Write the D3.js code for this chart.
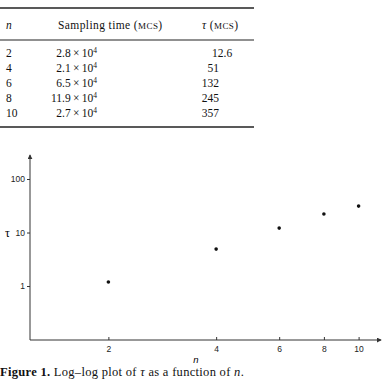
<!DOCTYPE html>
<html>
<head>
<meta charset="utf-8">
<script src="https://cdn.jsdelivr.net/npm/d3@7"></script>
<style>
  body { margin: 0; background: #fff; }
  svg { display: block; }
  .tbl { font-family: "Liberation Serif", serif; font-size: 11.5px; fill: #111; }
  .ax text { font-family: "Liberation Sans", "DejaVu Sans", sans-serif; font-size: 8.5px; fill: #222; }
  .ax path, .ax line { stroke: #333; }
</style>
</head>
<body>
<div id="chart"></div>
<script>
// table data
var nValues = [2, 4, 6, 8, 10]
var sampleMant = ['2.8', '2.1', '6.5', '11.9', '2.7']
var tauTable = ['12.6', '51', '132', '245', '357']

// plotted points
var plotN = [2, 4, 6, 8, 10]
var plotTau = [1.19, 4.9, 12.1, 22.2, 31.2]
var yTicks = [1, 10, 100]
var xTicks = [2, 4, 6, 8, 10]

var W = 382, H = 380
var svg = d3.select('#chart').append('svg')
    .attr('width', W).attr('height', H)

// ---- table ----
var tbl = svg.append('g').attr('class', 'tbl')
function rule(yy, w) {
    tbl.append('line').attr('x1', 0).attr('x2', 254).attr('y1', yy).attr('y2', yy)
        .attr('stroke', '#222').attr('stroke-width', w)
}
rule(8, 1.4)
rule(40, 1.2)
rule(127, 1.4)

tbl.append('text').attr('x', 6).attr('y', 29).style('font-style', 'italic').text('n')
var hd = tbl.append('text').attr('x', 58).attr('y', 29).style('letter-spacing', '0.4px')
hd.append('tspan').text('Sampling time (')
hd.append('tspan').style('font-size', '9px').text('MCS')
hd.append('tspan').text(')')
var hd2 = tbl.append('text').attr('x', 202).attr('y', 29).style('letter-spacing', '0.4px')
hd2.append('tspan').style('font-style', 'italic').text('τ')
hd2.append('tspan').text(' (')
hd2.append('tspan').style('font-size', '9px').text('MCS')
hd2.append('tspan').text(')')

var rowY = d3.scalePoint().domain(nValues).range([56.5, 116.5])
nValues.forEach(function(n, i) {
    var yy = rowY(n)
    tbl.append('text').attr('x', 6).attr('y', yy).text(n)
    var t = tbl.append('text').attr('x', 97).attr('y', yy).attr('text-anchor', 'end')
    t.append('tspan').text(sampleMant[i] + '\u2009×\u200910')
    t.append('tspan').attr('dy', -4).style('font-size', '7.5px').text('4')
    var v = tauTable[i]
    var tx = tbl.append('text').attr('y', yy)
    if (v.indexOf('.') >= 0) {
        tx.attr('x', 212).text(v)
    } else {
        tx.attr('x', 219).attr('text-anchor', 'end').text(v)
    }
})

// ---- plot ----
var pLeft = 30, pRight = 381, pTop = 155, pBottom = 340
var x = d3.scaleLog().domain([1.208, 11.55]).range([pLeft, pRight])
var y = d3.scaleLog().domain([0.098, 281]).range([pBottom, pTop])

var defs = svg.append('defs')
defs.append('marker').attr('id', 'arr')
    .attr('viewBox', '0 0 6 6').attr('refX', 5).attr('refY', 3)
    .attr('markerWidth', 5).attr('markerHeight', 5).attr('orient', 'auto')
    .append('path').attr('d', 'M0,0 L6,3 L0,6 Z').attr('fill', '#333')

var xAxis = svg.append('g').attr('class', 'ax')
    .attr('transform', 'translate(0,' + pBottom + ')')
    .call(d3.axisBottom(x).tickValues(xTicks).tickFormat(d3.format('d'))
        .tickSizeInner(-3).tickSizeOuter(0).tickPadding(6))
// only arrow at the far end
xAxis.select('.domain').attr('d', 'M' + pLeft + ',0H' + pRight).attr('marker-end', 'url(#arr)')

var yAxis = svg.append('g').attr('class', 'ax')
    .attr('transform', 'translate(' + pLeft + ',0)')
    .call(d3.axisLeft(y).tickValues(yTicks).tickFormat(d3.format('d'))
        .tickSizeInner(3).tickSizeOuter(0).tickPadding(2))
yAxis.select('.domain').attr('d', 'M0,' + pBottom + 'V' + pTop).attr('marker-end', 'url(#arr)')

svg.append('text').attr('x', 5).attr('y', y(10) + 4)
    .style('font-family', '"Liberation Serif", serif').style('font-size', '12px')
    .text('τ')
svg.append('text').attr('x', 196).attr('y', 363).attr('text-anchor', 'middle')
    .style('font-family', '"Liberation Sans", sans-serif').style('font-size', '9.5px')
    .style('font-style', 'italic').text('n')

svg.append('g').selectAll('circle')
    .data(plotN)
    .enter().append('circle')
    .attr('cx', function(d) { return x(d) })
    .attr('cy', function(d, i) { return y(plotTau[i]) })
    .attr('r', 1.8)
    .attr('fill', '#111')

// ---- caption ----
var cap = svg.append('text').attr('x', 0).attr('y', 376)
    .style('font-family', '"Liberation Serif", serif').style('font-size', '12.5px')
    .style('letter-spacing', '0.3px').attr('fill', '#111')
cap.append('tspan').style('font-weight', 'bold').text('Figure 1.')
cap.append('tspan').text('  Log–log plot of ')
cap.append('tspan').style('font-style', 'italic').text('τ')
cap.append('tspan').text(' as a function of ')
cap.append('tspan').style('font-style', 'italic').text('n')
cap.append('tspan').text('.')
</script>
</body>
</html>
